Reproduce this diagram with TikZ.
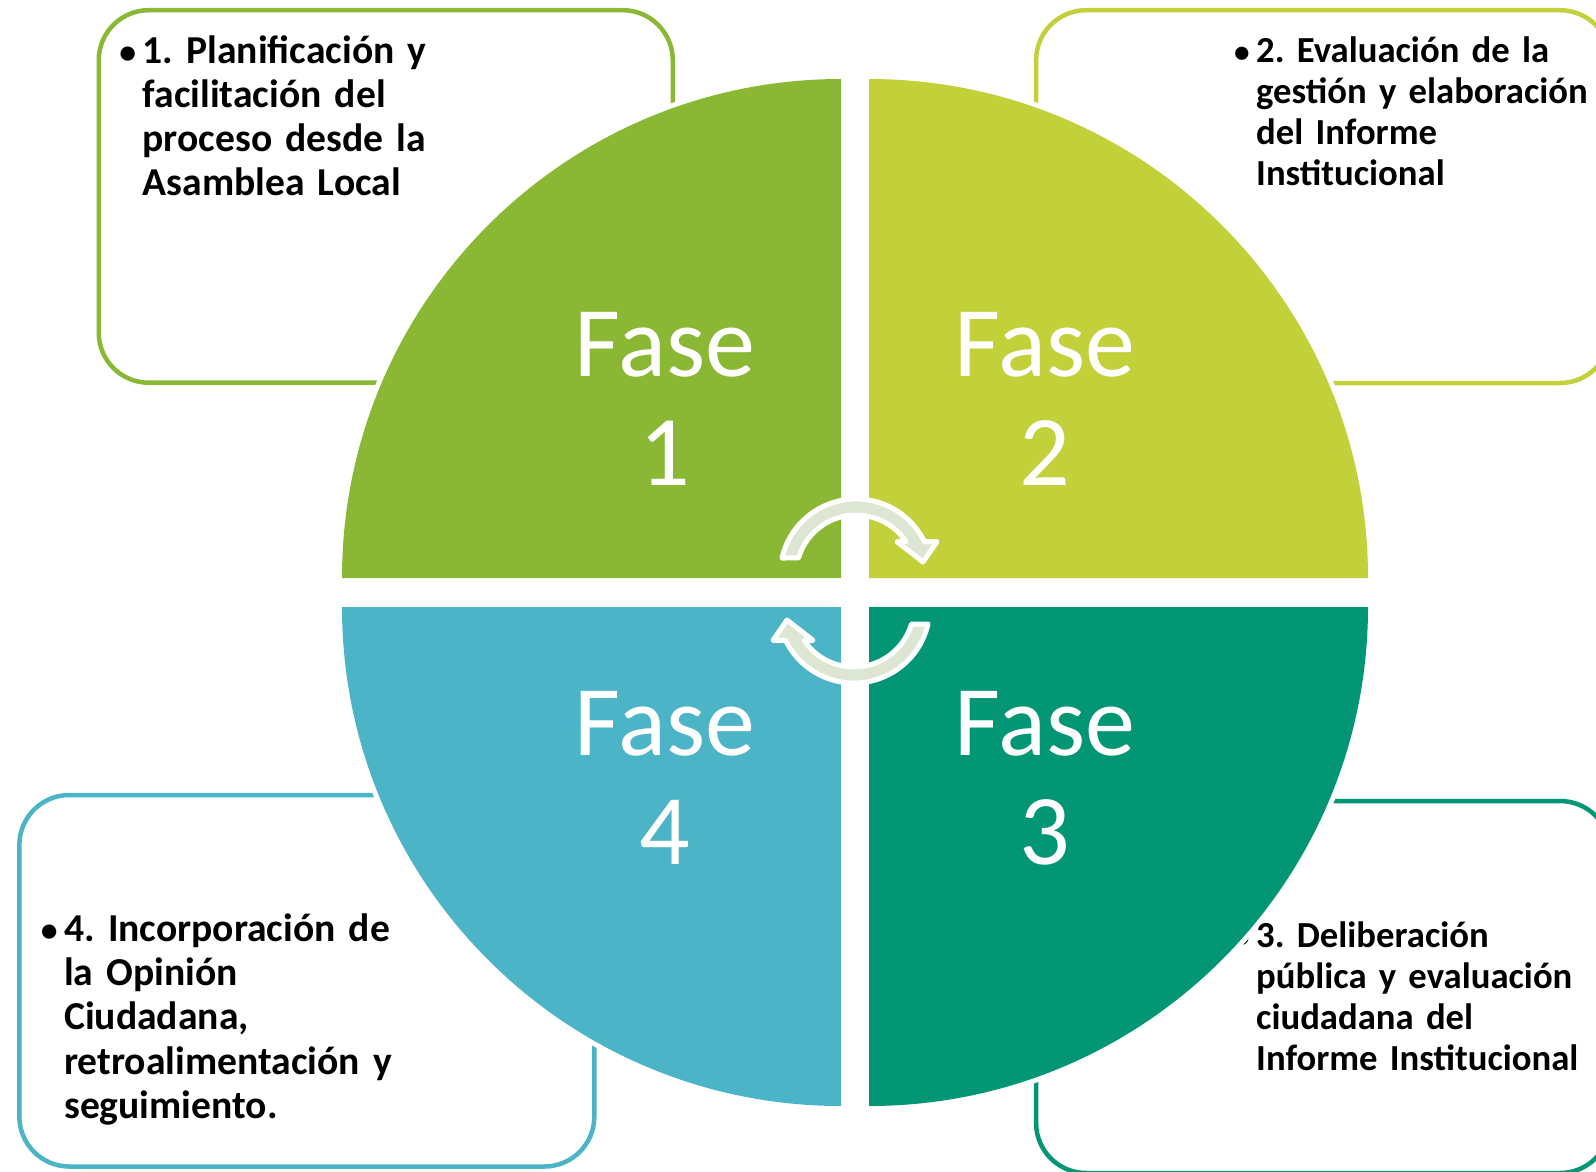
\documentclass[tikz,border=0pt]{standalone}
\usepackage{fontspec}
\setmainfont[WordSpace=0.8]{Carlito}
\definecolor{qone}{HTML}{8BB834}
\definecolor{qtwo}{HTML}{C2D03A}
\definecolor{qthree}{HTML}{039675}
\definecolor{qfour}{HTML}{4BB4C6}
\definecolor{arrowfill}{HTML}{DCE6D2}
\newcommand\mybul{\llap{\scalebox{0.85}{•}\hspace{6.5pt}}}
\frenchspacing
\begin{document}
\begin{tikzpicture}[x=1pt,y=-1pt,
  infobox/.style={draw, line width=4.5pt, rounded corners=50pt, inner sep=0pt, fill=none},
  infotext/.style={anchor=base west, inner sep=0pt, text width=620pt, align=left, text=black},
  bigtext/.style={font=\frenchspacing\bfseries\fontsize{39.6}{44.2}\selectfont},
  smalltext/.style={font=\frenchspacing\bfseries\fontsize{36.7}{41}\selectfont},
  fasetext/.style={anchor=base, inner sep=0pt, text width=300pt, align=center, text=white,
                   font=\fontsize{100}{109}\selectfont},
  halo/.style={fill=white},
  cyclearrow/.style={fill=arrowfill, draw=white, line width=5pt, line join=round}]
\useasboundingbox (0,0) rectangle (1596,1171);
\fill[white] (0,0) rectangle (1596,1171);
\clip (0,0) rectangle (1596,1171);

% text boxes
\node[infobox, draw=qone, minimum width=574pt, minimum height=372.5pt] (b1) at (385.75,196.45) {};
\node[infobox, draw=qtwo, minimum width=574pt, minimum height=372.8pt] (b2) at (1323.1,196.6) {};
\node[infobox, draw=qthree, minimum width=574pt, minimum height=372pt] (b3) at (1323.1,987) {};
\node[infobox, draw=qfour, minimum width=575pt, minimum height=371.5pt] (b4) at (306.85,980.75) {};

\node[infotext, bigtext] (t1) at (142.5,63) {\mybul 1. Planificación y\\facilitación del\\proceso desde la\\Asamblea Local};
\node[infotext, smalltext] (t2) at (1256,62) {\mybul 2. Evaluación de la\\gestión y elaboración\\del Informe\\Institucional};
\node[infotext, smalltext] (t3) at (1256,947.5) {\mybul 3. Deliberación\\pública y evaluación\\ciudadana del\\Informe Institucional};
\node[infotext, bigtext] (t4) at (64,941.5) {\mybul 4. Incorporación de\\la Opinión\\Ciudadana,\\retroalimentación y\\seguimiento.};

% white halos of the quarter discs
\fill[halo] (841,578) -- (337,578) arc[start angle=180, end angle=270, radius=504] -- cycle;
\fill[halo] (869,578) -- (869,74) arc[start angle=270, end angle=360, radius=504] -- cycle;
\fill[halo] (869,607) -- (1373,607) arc[start angle=0, end angle=90, radius=504] -- cycle;
\fill[halo] (841,607) -- (841,1111) arc[start angle=90, end angle=180, radius=504] -- cycle;

% quarter discs
\fill[qone] (841,578) -- (342,578) arc[start angle=180, end angle=270, radius=499] -- cycle;
\fill[qtwo] (869,578) -- (869,79) arc[start angle=270, end angle=360, radius=499] -- cycle;
\fill[qthree] (869,607) -- (1368,607) arc[start angle=0, end angle=90, radius=499] -- cycle;
\fill[qfour] (841,607) -- (841,1106) arc[start angle=90, end angle=180, radius=499] -- cycle;

% phase labels
\node[fasetext] (f1) at (665,376.6) {Fase\\1};
\node[fasetext] (f2) at (1045,376.6) {Fase\\2};
\node[fasetext] (f3) at (1045,755.3) {Fase\\3};
\node[fasetext] (f4) at (665,755.3) {Fase\\4};

% circular arrows
\path[cyclearrow] (782,558) arc[start angle=-167.1, end angle=-26, radius=76]
  -- (937,541.7) -- (923,562) -- (897,541.7) -- (906,541.7)
  arc[start angle=-33.7, end angle=-163.5, radius=60] -- cycle;
\path[cyclearrow] (928,624) arc[start angle=12.9, end angle=154, radius=76]
  -- (773,640.3) -- (787,620) -- (813,640.3) -- (804,640.3)
  arc[start angle=146.3, end angle=16.5, radius=60] -- cycle;
\end{tikzpicture}
\end{document}
